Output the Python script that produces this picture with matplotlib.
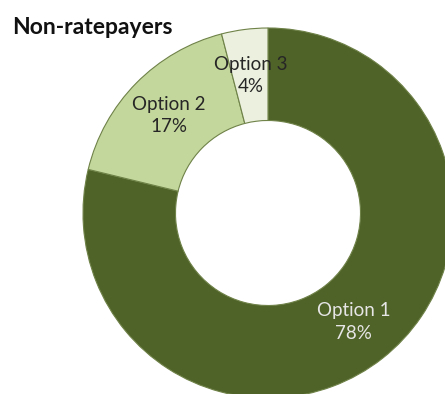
import numpy as np
import matplotlib.pyplot as plt

labels = ["Option 1", "Option 2", "Option 3"]
shares = [78, 17, 4]
colors = ["#4f6228", "#c3d69b", "#ebf1de"]
text_colors = ["#e6e6e6", "#262626", "#262626"]

plt.rcParams['font.family'] = ['Lato', 'DejaVu Sans']

fig = plt.figure(figsize=(4.45, 3.94), dpi=100)

# donut centred at (268, 213) px from the top-left, outer radius 185 px
ax = fig.add_axes([83 / 445, -4 / 394, 370 / 445, 370 / 394])
wedges, _ = ax.pie(shares, colors=colors, startangle=90, counterclock=False,
                   radius=1.0,
                   wedgeprops=dict(width=0.5, edgecolor="#6f8248", linewidth=0.8))
ax.set_xlim(-1, 1)
ax.set_ylim(-1, 1)
ax.set_aspect("equal")
ax.axis("off")

for w, lab, val, tc in zip(wedges, labels, shares, text_colors):
    w.set_clip_on(False)
    ang = np.deg2rad((w.theta1 + w.theta2) / 2)
    r = 0.75
    ax.text(r * np.cos(ang), r * np.sin(ang), f"{lab}\n{val}%",
            ha="center", va="center", fontsize=13.5, color=tc,
            linespacing=1.4)

fig.text(12 / 445, 1 - 27 / 394, "Non-ratepayers", fontsize=16.5,
         fontweight="bold", ha="left", va="center", color="#111111")

fig.savefig("out.png", dpi=100)
